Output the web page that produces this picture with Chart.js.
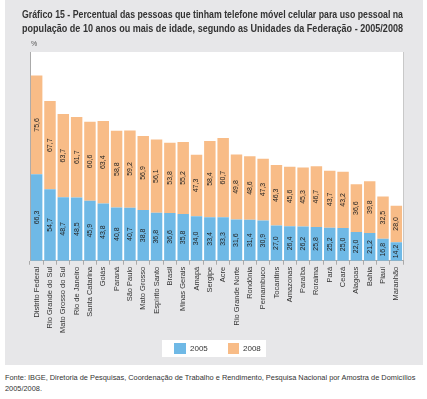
<!DOCTYPE html>
<html>
<head>
<meta charset="utf-8">
<script src="https://cdn.jsdelivr.net/npm/chart.js@4"></script>
<style>
  body { margin: 0; background: #fff; width: 427px; height: 399px; position: relative; font-family: 'Liberation Sans', Arial, sans-serif; }
  #painel { position: absolute; left: 5px; top: 0; width: 418px; height: 365px; background: #e7e7e9; }
  #fonte { position: absolute; left: 5px; top: 372px; font-size: 7.4px; line-height: 11px; color: #333; }
</style>
</head>
<body>
<div id="painel"><canvas id="grafico" width="418" height="365"></canvas></div>
<div id="fonte">Fonte: IBGE, Diretoria de Pesquisas, Coordenação de Trabalho e Rendimento, Pesquisa Nacional por Amostra de Domicílios<br>2005/2008.</div>
<script>
// Dados
const unidades = ['Distrito Federal', 'Rio Grande do Sul', 'Mato Grosso do Sul', 'Rio de Janeiro', 'Santa Catarina',
  'Goiás', 'Paraná', 'São Paulo', 'Mato Grosso', 'Espírito Santo', 'Brasil', 'Minas Gerais', 'Amapá', 'Sergipe',
  'Acre', 'Rio Grande Norte', 'Rondônia', 'Pernambuco', 'Tocantins', 'Amazonas', 'Paraíba', 'Roraima', 'Pará',
  'Ceará', 'Alagoas', 'Bahia', 'Piauí', 'Maranhão'];
const valores2005 = [66.3, 54.7, 48.7, 48.5, 45.9, 43.8, 40.8, 40.7, 38.8, 36.8, 36.6, 35.8, 34.0, 33.4,
  33.3, 31.6, 31.4, 30.9, 27.0, 26.4, 26.2, 25.8, 25.2, 25.0, 22.0, 21.2, 16.8, 14.2];
const valores2008 = [75.6, 67.7, 63.7, 61.7, 60.6, 63.4, 58.8, 59.2, 56.9, 56.1, 53.8, 55.2, 47.3, 58.4,
  60.7, 49.8, 48.6, 47.3, 46.3, 45.6, 45.3, 46.7, 43.7, 43.2, 36.6, 39.8, 32.5, 28.0];
const titulo = ['Gráfico 15 - Percentual das pessoas que tinham telefone móvel celular para uso pessoal na',
  'população de 10 anos ou mais de idade, segundo as Unidades da Federação - 2005/2008'];

const corAzul = '#6fb9e6';
const corLaranja = '#f8bc87';
const fonte = '"Liberation Sans", Arial, sans-serif';

// Fundo branco da área do gráfico, símbolo % e legenda
const fundoPlugin = {
  id: 'fundo',
  beforeDraw(chart) {
    const ctx = chart.ctx;
    const a = chart.chartArea;
    ctx.save();
    ctx.fillStyle = '#fff';
    ctx.fillRect(a.left, a.top, a.right - a.left, a.bottom - a.top);
    ctx.strokeStyle = '#c8c8c8';
    ctx.lineWidth = 1;
    ctx.beginPath();
    ctx.moveTo(a.right + 0.5, a.top);
    ctx.lineTo(a.right + 0.5, a.bottom);
    ctx.stroke();

    ctx.fillStyle = '#555';
    ctx.font = '7px ' + fonte;
    ctx.textAlign = 'left';
    ctx.textBaseline = 'middle';
    ctx.fillText('%', a.left + 1, a.top - 8);

    // legenda
    const cx = chart.width / 2;
    const topo = 340;
    ctx.fillStyle = '#fff';
    ctx.fillRect(cx - 52, topo, 104, 17);
    ctx.font = '8px ' + fonte;
    ctx.fillStyle = corAzul;
    ctx.fillRect(cx - 40, topo + 3, 12, 11);
    ctx.fillStyle = '#333';
    ctx.fillText(chart.data.datasets[0].label, cx - 24, topo + 9);
    ctx.fillStyle = corLaranja;
    ctx.fillRect(cx + 14, topo + 3, 11, 11);
    ctx.fillStyle = '#333';
    ctx.fillText(chart.data.datasets[1].label, cx + 29, topo + 9);
    ctx.restore();
  }
};

// Rótulos de valor rotacionados dentro das barras
const rotulosPlugin = {
  id: 'rotulos',
  afterDatasetsDraw(chart) {
    const ctx = chart.ctx;
    ctx.save();
    ctx.fillStyle = '#222';
    ctx.font = '7px ' + fonte;
    ctx.textAlign = 'center';
    ctx.textBaseline = 'middle';
    chart.data.datasets.forEach((ds, i) => {
      chart.getDatasetMeta(i).data.forEach((bar, j) => {
        const cy = (bar.y + bar.base) / 2;
        ctx.save();
        ctx.translate(bar.x, cy);
        ctx.rotate(-Math.PI / 2);
        ctx.fillText(ds.data[j].toFixed(1).replace('.', ','), 0, 0);
        ctx.restore();
      });
    });
    ctx.restore();
  }
};

new Chart(document.getElementById('grafico'), {
  type: 'bar',
  data: {
    labels: unidades,
    datasets: [
      { label: '2005', data: valores2005, backgroundColor: corAzul, barPercentage: 0.86, categoryPercentage: 1 },
      { label: '2008', data: valores2008, backgroundColor: corLaranja, barPercentage: 0.86, categoryPercentage: 1 }
    ]
  },
  options: {
    responsive: false,
    devicePixelRatio: 1,
    animation: false,
    layout: { padding: { left: 17, right: 20, bottom: 30 } },
    plugins: {
      title: {
        display: true,
        text: titulo,
        color: '#333',
        font: { family: fonte, size: 10, weight: 'bold', lineHeight: 1.4 },
        padding: { top: 8, bottom: 16 }
      },
      legend: { display: false },
      tooltip: { enabled: false }
    },
    scales: {
      x: {
        stacked: true,
        grid: { display: true, offset: true, drawOnChartArea: false, drawTicks: true, tickLength: 4, color: '#aaa' },
        border: { display: true, color: '#aaa' },
        ticks: {
          minRotation: 90,
          maxRotation: 90,
          autoSkip: false,
          padding: 2,
          color: '#333',
          font: { family: fonte, size: 7.5 }
        }
      },
      y: {
        stacked: true,
        min: 0,
        max: 160,
        grid: { display: false },
        border: { display: true, color: '#aaa' },
        ticks: { display: false }
      }
    }
  },
  plugins: [fundoPlugin, rotulosPlugin]
});
</script>
</body>
</html>
